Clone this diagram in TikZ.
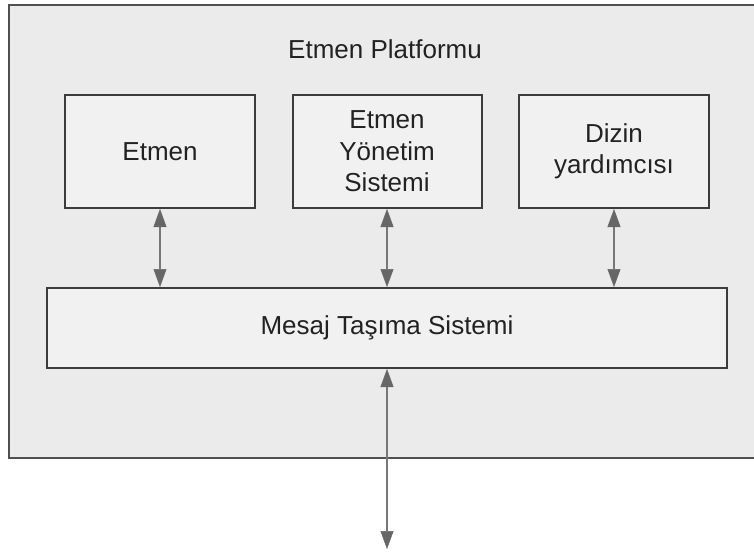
\documentclass[tikz,border=0pt]{standalone}
\usepackage{fontspec}
\setmainfont{Liberation Sans}
\usetikzlibrary{arrows.meta}
\definecolor{framefill}{HTML}{EBEBEB}
\definecolor{framedraw}{HTML}{505050}
\definecolor{boxfill}{HTML}{F1F1F1}
\definecolor{boxdraw}{HTML}{3C3C3C}
\definecolor{linkcol}{HTML}{777777}
\definecolor{tipcol}{HTML}{666666}
\definecolor{txt}{HTML}{222222}
\tikzset{
  platform/.style={draw=framedraw, fill=framefill, line width=2.5pt},
  unitbox/.style={draw=boxdraw, fill=boxfill, line width=2pt, rectangle,
    inner sep=0pt, align=center, text=txt,
    font=\fontsize{26}{31.5}\selectfont},
  link/.style={draw=linkcol, line width=2pt,
    {Triangle[width=13pt,length=18pt,color=tipcol,fill=tipcol,line width=0.5pt]}-{Triangle[width=13pt,length=18pt,color=tipcol,fill=tipcol,line width=0.5pt]}},
  title/.style={text=txt, font=\fontsize{26}{31.5}\selectfont, inner sep=0pt}
}
\begin{document}
\begin{tikzpicture}[x=1pt,y=-1pt]
  \useasboundingbox (0,0) rectangle (754,551);
  \fill[white] (0,0) rectangle (754,551);
  % platform frame (runs past the right edge)
  \begin{scope}
    \clip (0,0) rectangle (754,551);
    \draw[platform] (9,5) rectangle (770,458);
  \end{scope}
  \node[title] (ttl) at (385,49) {Etmen Platformu};
  % upper components
  \node[unitbox, minimum width=190pt, minimum height=113pt] (etmen) at (160,151.5) {Etmen};
  \node[unitbox, minimum width=189pt, minimum height=113pt] (yonetim) at (387,151.5) {Etmen\\Yönetim\\Sistemi};
  \node[unitbox, minimum width=190pt, minimum height=113pt] (dizin) at (614,151.5) {Dizin\\yardımcısı};
  % message transport
  \node[unitbox, minimum width=680pt, minimum height=80pt] (mts) at (387,328) {Mesaj Taşıma Sistemi};
  \coordinate (outside) at (387,549);
  % connectors
  \draw[link] (etmen.south) -- (etmen.south |- mts.north);
  \draw[link] (yonetim.south) -- (yonetim.south |- mts.north);
  \draw[link] (dizin.south) -- (dizin.south |- mts.north);
  \draw[link] (mts.south) -- (outside);
\end{tikzpicture}
\end{document}
